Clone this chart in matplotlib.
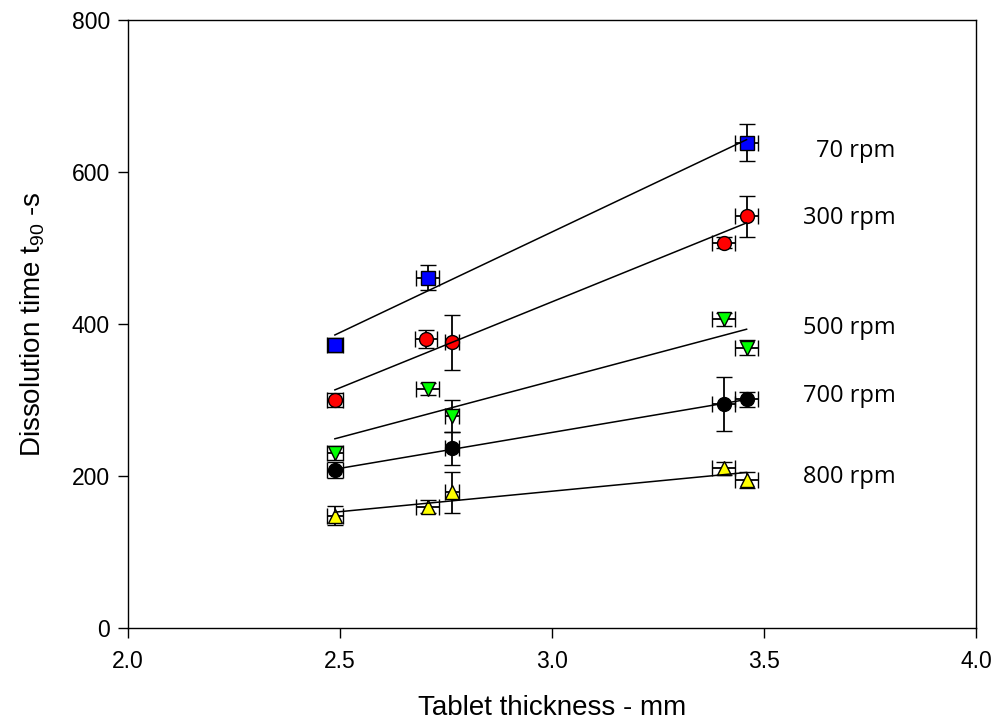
import numpy as np
import matplotlib
matplotlib.use("Agg")
import matplotlib.pyplot as plt

plt.rcParams['font.family'] = ['Liberation Sans', 'DejaVu Sans']
plt.rcParams['mathtext.default'] = 'regular'

# ---- data ----
labels = ["70 rpm", "300 rpm", "500 rpm", "700 rpm", "800 rpm"]

x_70 = [2.488, 2.707, 3.459]
y_70 = [372, 461, 638.6]
xe_70 = [0.019, 0.027, 0.027]
ye_70 = [9, 16, 24]

x_300 = [2.488, 2.704, 2.764, 3.405, 3.459]
y_300 = [300, 380, 376, 507, 542]
xe_300 = [0.019, 0.026, 0.017, 0.027, 0.027]
ye_300 = [9, 12, 36, 7, 27]

x_500 = [2.488, 2.707, 2.764, 3.405, 3.459]
y_500 = [230, 314.5, 279, 406, 369]
xe_500 = [0.019, 0.027, 0.017, 0.027, 0.027]
ye_500 = [9, 8, 21, 9, 10]

x_700 = [2.488, 2.764, 3.405, 3.459]
y_700 = [208, 236.4, 294.7, 301]
xe_700 = [0.019, 0.017, 0.027, 0.027]
ye_700 = [10, 22, 36, 10]

x_800 = [2.488, 2.707, 2.764, 3.405, 3.459]
y_800 = [147.4, 159.7, 178.5, 210, 194.7]
xe_800 = [0.019, 0.027, 0.017, 0.027, 0.027]
ye_800 = [12.5, 9, 27, 9, 10]

xticks = [2.0, 2.5, 3.0, 3.5, 4.0]
yticks = [0, 200, 400, 600, 800]

series = [
    (x_70, y_70, xe_70, ye_70, 's', '#0000FF'),
    (x_300, y_300, xe_300, ye_300, 'o', '#FF0000'),
    (x_500, y_500, xe_500, ye_500, 'v', '#00FF00'),
    (x_700, y_700, xe_700, ye_700, 'o', '#000000'),
    (x_800, y_800, xe_800, ye_800, '^', '#FFFF00'),
]

# label anchor positions (data coords)
label_x = 3.81
label_y = [628, 540, 395, 305, 199]

fig = plt.figure(figsize=(9.95, 7.26), dpi=100)
ax = fig.add_axes([0.1286, 0.135, 0.8523, 0.8375])

for xs, ys, xe, ye, mk, col in series:
    ax.errorbar(xs, ys, xerr=xe, yerr=ye, fmt=mk, color='black', ecolor='black',
                mfc=col, mec='black', mew=1.0, ms=10, elinewidth=1.3,
                capsize=6, capthick=1.3, zorder=2)
    xs_a = np.array(xs)
    ys_a = np.array(ys)
    p = np.polyfit(xs_a, ys_a, 1)
    xl = np.array([xs_a.min(), xs_a.max()])
    ax.plot(xl, np.polyval(p, xl), color='black', lw=1.1, zorder=3)

for lab, ly in zip(labels, label_y):
    ax.text(label_x, ly, lab, ha='right', va='center', fontsize=17,
            family=['Open Sans', 'DejaVu Sans'])

ax.set_xlim(2.0, 4.0)
ax.set_ylim(0, 800)
ax.set_xticks(xticks)
ax.set_xticklabels([f"{v:.1f}" for v in xticks])
ax.set_yticks(yticks)
ax.tick_params(direction='out', length=7, width=1.0, labelsize=16.5)
ax.tick_params(axis='x', pad=9)
ax.tick_params(axis='y', pad=6)
for s in ax.spines.values():
    s.set_linewidth(1.0)

ax.set_xlabel("Tablet thickness - mm", fontsize=20, labelpad=16)
ax.set_ylabel("Dissolution time t$_{90}$ -s", fontsize=20, labelpad=18)

fig.savefig("out.png", dpi=100)
